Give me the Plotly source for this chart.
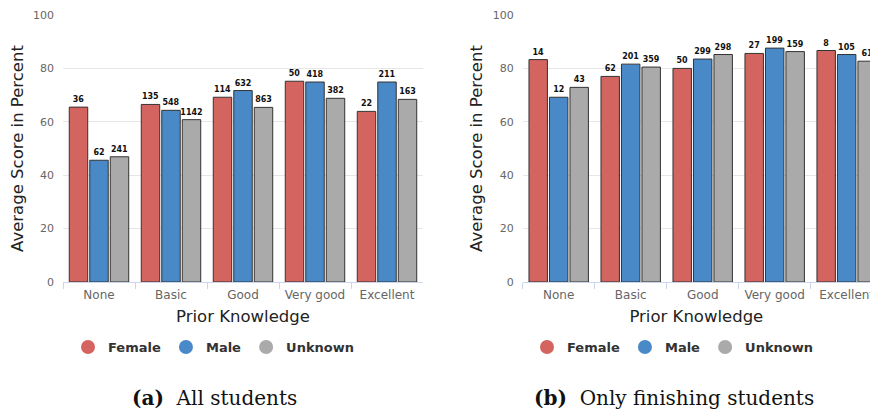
import plotly.graph_objects as go

categories = ["None", "Basic", "Good", "Very good", "Excellent"]
groups = ["Female", "Male", "Unknown"]

# (a) all students: average score and number of students per group
all_female = [65.5, 66.5, 69.2, 75.2, 63.9]
all_male = [45.6, 64.3, 71.7, 74.9, 74.9]
all_unknown = [46.9, 60.8, 65.4, 68.8, 68.4]
all_female_n = [36, 135, 114, 50, 22]
all_male_n = [62, 548, 632, 418, 211]
all_unknown_n = [241, 1142, 863, 382, 163]

# (b) only finishing students
fin_female = [83.3, 77.0, 80.0, 85.6, 86.7]
fin_male = [69.2, 81.6, 83.5, 87.6, 85.2]
fin_unknown = [72.9, 80.5, 85.2, 86.3, 82.7]
fin_female_n = [14, 62, 50, 27, 8]
fin_male_n = [12, 201, 299, 199, 105]
fin_unknown_n = [43, 359, 298, 159, 61]

y_ticks = [0, 20, 40, 60, 80, 100]

colors = {"Female": "#d4645f", "Male": "#4a89c8", "Unknown": "#aaaaaa"}
SANS = "DejaVu Sans"
SERIF = "DejaVu Serif"

W, H = 870, 414


def fx(p):
    return p / W


def fy(p):
    return 1 - p / H


panels = [
    dict(x="x", y="y", legend="legend",
         values=[all_female, all_male, all_unknown],
         counts=[all_female_n, all_male_n, all_unknown_n]),
    dict(x="x2", y="y2", legend="legend2",
         values=[fin_female, fin_male, fin_unknown],
         counts=[fin_female_n, fin_male_n, fin_unknown_n]),
]

fig = go.Figure()
for p in panels:
    for name, vals, ns in zip(groups, p["values"], p["counts"]):
        fig.add_trace(go.Bar(
            x=categories, y=vals, name=name,
            text=[str(n) for n in ns], textposition="outside",
            textfont=dict(family=SANS, size=8, weight="bold", color="#111"),
            constraintext="none", cliponaxis=False,
            marker=dict(color=colors[name], line=dict(color="#333333", width=1)),
            xaxis=p["x"], yaxis=p["y"], showlegend=False,
            hoverinfo="skip",
        ))
    # circular legend entries
    for name in groups:
        fig.add_trace(go.Scatter(
            x=[None], y=[None], mode="markers", name=name,
            marker=dict(symbol="circle", size=14, color=colors[name]),
            xaxis=p["x"], yaxis=p["y"], legend=p["legend"],
        ))

xcommon = dict(
    type="category", tickson="boundaries", ticks="outside", ticklen=6,
    tickcolor="#ccd6eb", showline=True, linecolor="#ccd6eb", linewidth=1,
    showgrid=False, automargin=False, ticklabelstandoff=2,
    tickfont=dict(family=SANS, size=12, color="#666666"),
    title=dict(text="Prior Knowledge", font=dict(family=SANS, size=16.5, color="#222222"), standoff=9),
)
ycommon = dict(
    range=[0, 100], tickvals=y_ticks, showgrid=True, gridcolor="#e6e6e6",
    zeroline=False, showline=False, ticks="", ticklabelstandoff=8, automargin=False,
    tickfont=dict(family=SANS, size=11, color="#666666"),
    title=dict(text="Average Score in Percent", font=dict(family=SANS, size=16.5, color="#222222"), standoff=5),
)

legcommon = dict(
    orientation="h", xanchor="center", yanchor="middle",
    font=dict(family=SANS, size=13, color="#333333", weight="bold"),
    itemsizing="trace", bgcolor="rgba(0,0,0,0)",
)

fig.update_layout(
    width=W, height=H, margin=dict(l=0, r=0, t=0, b=0),
    paper_bgcolor="white", plot_bgcolor="white",
    barmode="group", bargap=0.146, bargroupgap=0.1,
    xaxis=dict(domain=[fx(63), fx(423)], range=[-0.5, 4.5], anchor="y", **xcommon),
    xaxis2=dict(domain=[fx(522.7), 1.0], range=[-0.5, 4.324], anchor="y2", **xcommon),
    yaxis=dict(domain=[fy(282), fy(15)], anchor="x", **ycommon),
    yaxis2=dict(domain=[fy(282), fy(15)], anchor="x2", **ycommon),
    legend=dict(x=fx(214), y=fy(347), **legcommon),
    legend2=dict(x=fx(673), y=fy(347), **legcommon),
    annotations=[
        dict(text="<b>(a)</b>&nbsp;&nbsp;All students", x=fx(214), y=fy(398),
             xref="paper", yref="paper", showarrow=False, xanchor="center", yanchor="middle",
             font=dict(family=SERIF, size=20, color="#111111")),
        dict(text="<b>(b)</b>&nbsp;&nbsp;Only finishing students", x=fx(673.5), y=fy(398),
             xref="paper", yref="paper", showarrow=False, xanchor="center", yanchor="middle",
             font=dict(family=SERIF, size=20, color="#111111")),
    ],
)

fig.write_html("out.html")
